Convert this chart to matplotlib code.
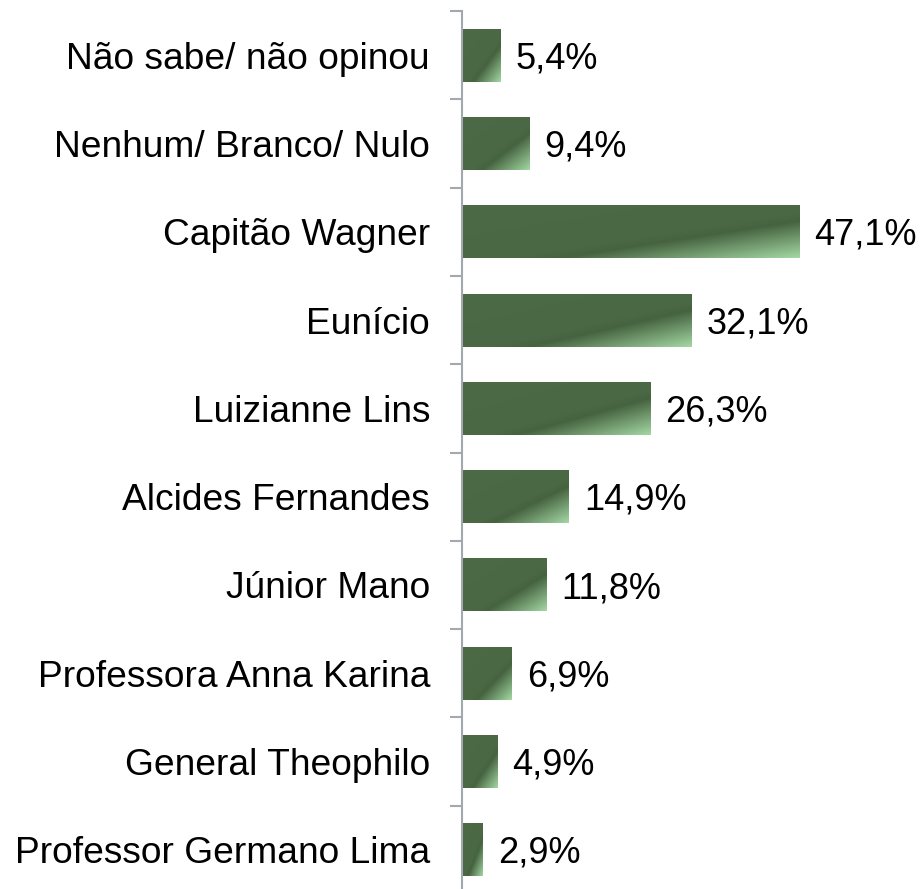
import numpy as np
import matplotlib
matplotlib.use("Agg")
import matplotlib.pyplot as plt
from matplotlib.colors import LinearSegmentedColormap

# categories top to bottom, with their shares in percent
categories = [
    "Não sabe/ não opinou",
    "Nenhum/ Branco/ Nulo",
    "Capitão Wagner",
    "Eunício",
    "Luizianne Lins",
    "Alcides Fernandes",
    "Júnior Mano",
    "Professora Anna Karina",
    "General Theophilo",
    "Professor Germano Lima",
]
values = [5.4, 9.4, 47.1, 32.1, 26.3, 14.9, 11.8, 6.9, 4.9, 2.9]

plt.rcParams["font.family"] = ["Liberation Sans", "DejaVu Sans"]

# dark green, fading to light green toward the lower right corner of each bar
green = LinearSegmentedColormap.from_list("green", [
    (0.0, "#4b6a45"),
    (0.58, "#4a6843"),
    (0.65, "#466340"),
    (1.0, "#a3d7a3"),
])

fig = plt.figure(figsize=(9.22, 8.89), dpi=100)
ax = fig.add_axes([462 / 922, -5 / 889, 1 - 462 / 922, 883 / 889])

n = len(categories)
ypos = np.arange(n)
bar_h = 0.6
xmax = 460 / 7.155

for y, v in zip(ypos, values):
    # gradient scaled with the shape of the bar: top-left corner 0, bottom-right corner 1
    uu, vv = np.meshgrid(np.linspace(0, 1, 300), np.linspace(0, 1, 60))
    t = (uu + vv) / 2
    ax.imshow(t, cmap=green, vmin=0, vmax=1, aspect="auto", interpolation="bilinear",
              extent=(0, v, y + bar_h / 2, y - bar_h / 2), origin="upper", zorder=2)
    label = f"{v:.1f}".replace(".", ",") + "%"
    # baseline placed so the digits sit centred on the bar
    ax.annotate(label, (v, y), xytext=(11, -9.4), textcoords="offset points",
                ha="left", va="baseline", fontsize=26, color="black")

ax.set_xlim(0, xmax)
ax.set_ylim(n - 0.5, -0.5)

ax.set_yticks(ypos)
ax.set_yticklabels(categories, fontsize=26.7)
ax.set_yticks(np.arange(n + 1) - 0.5, minor=True)
ax.tick_params(axis="y", which="major", length=0, pad=23)
ax.tick_params(axis="y", which="minor", length=8.6, width=1.5, color="#a3a7ae")
ax.set_xticks([])

for side in ["top", "right", "bottom"]:
    ax.spines[side].set_visible(False)
ax.spines["left"].set_color("#a3a7ae")
ax.spines["left"].set_linewidth(1.5)

fig.savefig("out.png", dpi=100)
